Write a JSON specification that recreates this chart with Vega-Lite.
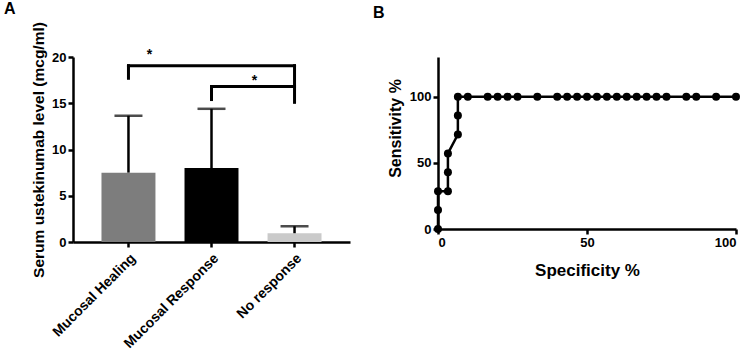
{
  "$schema": "https://vega.github.io/schema/vega-lite/v6.json",
  "padding": {"left": 4, "top": 0, "right": 5, "bottom": 0},
  "background": "white",
  "spacing": 23,
  "config": {
    "font": "Liberation Sans",
    "view": {"stroke": null},
    "axis": {
      "grid": false,
      "domainColor": "black",
      "domainWidth": 2.5,
      "tickColor": "black",
      "tickWidth": 2.5,
      "tickSize": 5,
      "labelFont": "Liberation Sans",
      "labelFontWeight": "bold",
      "labelFontSize": 12,
      "labelColor": "black",
      "titleFont": "Liberation Sans",
      "titleFontWeight": "bold",
      "titleColor": "black"
    },
    "title": {"font": "Liberation Sans", "fontWeight": "bold", "fontSize": 16, "color": "black", "anchor": "start", "frame": "group"}
  },
  "datasets": {
    "bars": [
      {"group": "Mucosal Healing", "mean": 7.5, "upper": 13.65},
      {"group": "Mucosal Response", "mean": 8.0, "upper": 14.4},
      {"group": "No response", "mean": 0.95, "upper": 1.7}
    ],
    "hbrackets": [
      {"from": "Mucosal Healing", "to": "No response", "level": 19.06},
      {"from": "Mucosal Response", "to": "No response", "level": 16.8}
    ],
    "vbrackets": [
      {"group": "Mucosal Healing", "low": 17.7, "high": 19.06},
      {"group": "No response", "low": 15.1, "high": 19.06},
      {"group": "Mucosal Response", "low": 15.4, "high": 16.8}
    ],
    "roc": [
      {"i": 1, "spec": 0, "sens": 0},
      {"i": 2, "spec": 0, "sens": 14.29},
      {"i": 3, "spec": 0, "sens": 28.57},
      {"i": 4, "spec": 3.33, "sens": 28.57},
      {"i": 5, "spec": 3.33, "sens": 42.86},
      {"i": 6, "spec": 3.33, "sens": 57.14},
      {"i": 7, "spec": 6.67, "sens": 71.43},
      {"i": 8, "spec": 6.67, "sens": 85.71},
      {"i": 9, "spec": 6.67, "sens": 100},
      {"i": 10, "spec": 10, "sens": 100},
      {"i": 11, "spec": 16.67, "sens": 100},
      {"i": 12, "spec": 20, "sens": 100},
      {"i": 13, "spec": 23.33, "sens": 100},
      {"i": 14, "spec": 26.67, "sens": 100},
      {"i": 15, "spec": 33.33, "sens": 100},
      {"i": 16, "spec": 40, "sens": 100},
      {"i": 17, "spec": 43.33, "sens": 100},
      {"i": 18, "spec": 46.67, "sens": 100},
      {"i": 19, "spec": 50, "sens": 100},
      {"i": 20, "spec": 53.33, "sens": 100},
      {"i": 21, "spec": 56.67, "sens": 100},
      {"i": 22, "spec": 60, "sens": 100},
      {"i": 23, "spec": 63.33, "sens": 100},
      {"i": 24, "spec": 66.67, "sens": 100},
      {"i": 25, "spec": 70, "sens": 100},
      {"i": 26, "spec": 73.33, "sens": 100},
      {"i": 27, "spec": 76.67, "sens": 100},
      {"i": 28, "spec": 83.33, "sens": 100},
      {"i": 29, "spec": 86.67, "sens": 100},
      {"i": 30, "spec": 93.33, "sens": 100},
      {"i": 31, "spec": 100, "sens": 100}
    ]
  },
  "hconcat": [
    {
      "width": 277,
      "height": 185,
      "title": {"text": "A", "dx": -69, "offset": 5},
      "resolve": {"scale": {"color": "independent"}},
      "layer": [
        {
          "data": {"name": "bars"},
          "mark": {"type": "bar"},
          "encoding": {
            "x": {
              "field": "group", "type": "nominal", "sort": null,
              "scale": {"paddingInner": 0.35, "paddingOuter": 0.343},
              "axis": {"title": null, "labelAngle": -45, "labelFontSize": 14, "labelPadding": 4}
            },
            "y": {
              "field": "mean", "type": "quantitative",
              "scale": {"domain": [0, 20], "nice": false},
              "axis": {"title": "Serum ustekinumab level (mcg/ml)", "titleFontSize": 15.5, "values": [0, 5, 10, 15, 20], "labelFontSize": 13, "titlePadding": 5}
            },
            "color": {
              "field": "group", "type": "nominal", "legend": null,
              "scale": {"domain": ["Mucosal Healing", "Mucosal Response", "No response"], "range": ["#7d7d7d", "#000000", "#cacaca"]}
            }
          }
        },
        {
          "data": {"name": "bars"},
          "mark": {"type": "rule", "strokeWidth": 2.5, "color": "black"},
          "encoding": {
            "x": {"field": "group", "type": "nominal", "sort": null},
            "y": {"field": "mean", "type": "quantitative"},
            "y2": {"field": "upper"}
          }
        },
        {
          "data": {"name": "bars"},
          "mark": {"type": "tick", "size": 28, "thickness": 2.5, "color": "black", "orient": "horizontal"},
          "encoding": {
            "x": {"field": "group", "type": "nominal", "sort": null},
            "y": {"field": "upper", "type": "quantitative"}
          }
        },
        {
          "data": {"name": "hbrackets"},
          "mark": {"type": "rule", "strokeWidth": 3, "color": "black", "strokeCap": "square"},
          "encoding": {
            "x": {"field": "from", "type": "nominal", "sort": null, "bandPosition": 0.5},
            "x2": {"field": "to", "bandPosition": 0.5},
            "y": {"field": "level", "type": "quantitative"}
          }
        },
        {
          "data": {"name": "vbrackets"},
          "mark": {"type": "rule", "strokeWidth": 3, "color": "black", "strokeCap": "square"},
          "encoding": {
            "x": {"field": "group", "type": "nominal", "sort": null},
            "y": {"field": "low", "type": "quantitative"},
            "y2": {"field": "high"}
          }
        },
        {
          "data": {"values": [{"group": "Mucosal Healing", "level": 19.8, "label": "*"}]},
          "mark": {"type": "text", "fontSize": 14, "fontWeight": "bold", "dx": 21, "baseline": "alphabetic", "color": "black"},
          "encoding": {
            "x": {"field": "group", "type": "nominal", "sort": null},
            "y": {"field": "level", "type": "quantitative"},
            "text": {"field": "label"}
          }
        },
        {
          "data": {"values": [{"group": "Mucosal Response", "level": 16.95, "label": "*"}]},
          "mark": {"type": "text", "fontSize": 14, "fontWeight": "bold", "dx": 43, "baseline": "alphabetic", "color": "black"},
          "encoding": {
            "x": {"field": "group", "type": "nominal", "sort": null},
            "y": {"field": "level", "type": "quantitative"},
            "text": {"field": "label"}
          }
        }
      ]
    },
    {
      "width": 298,
      "height": 172,
      "title": {"text": "B", "dx": -65, "offset": 36},
      "data": {"name": "roc"},
      "layer": [
        {
          "mark": {"type": "line", "color": "black", "strokeWidth": 2.5},
          "encoding": {
            "x": {
              "field": "spec", "type": "quantitative",
              "scale": {"domain": [0, 100], "nice": false},
              "axis": {"title": "Specificity %", "titleFontSize": 17, "values": [0, 50, 100], "labelFontSize": 13, "titlePadding": 13}
            },
            "y": {
              "field": "sens", "type": "quantitative",
              "scale": {"domain": [0, 130], "nice": false},
              "axis": {"title": "Sensitivity %", "titleFontSize": 16, "values": [0, 50, 100], "labelFontSize": 13, "titlePadding": 6, "titleY": 71}
            },
            "order": {"field": "i", "type": "quantitative"}
          }
        },
        {
          "mark": {"type": "circle", "color": "black", "opacity": 1, "size": 64},
          "encoding": {
            "x": {"field": "spec", "type": "quantitative"},
            "y": {"field": "sens", "type": "quantitative"}
          }
        }
      ]
    }
  ]
}
